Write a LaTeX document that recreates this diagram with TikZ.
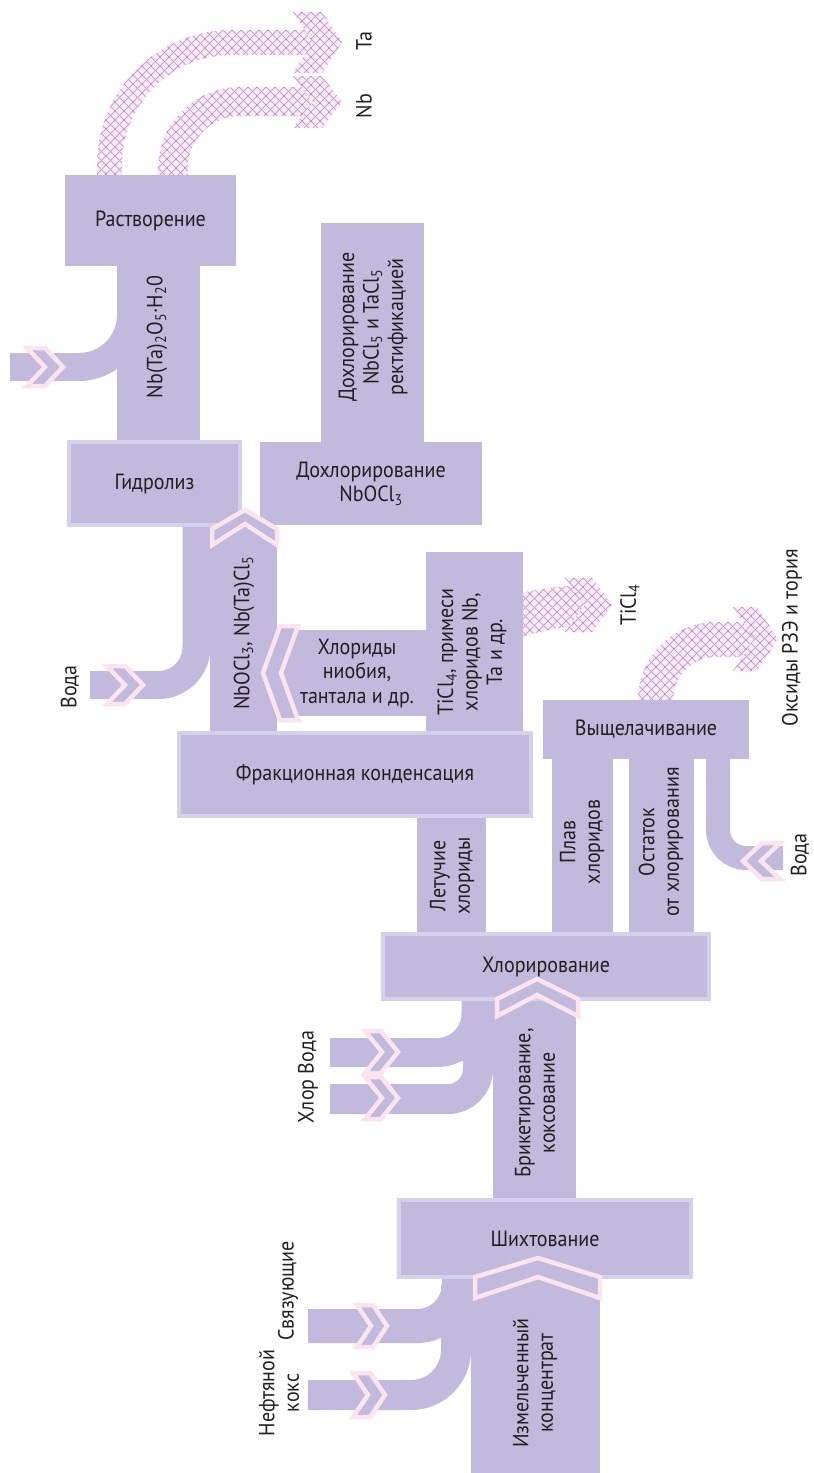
\documentclass[tikz,border=0pt]{standalone}
\usepackage{fontspec}
\setmainfont{PT Sans}[FakeStretch=0.91]
\definecolor{bandc}{RGB}{193,186,220}
\definecolor{bordc}{RGB}{214,209,235}
\definecolor{pinkc}{RGB}{251,228,237}
\definecolor{hpinkc}{RGB}{251,236,243}
\definecolor{hlinec}{RGB}{192,165,216}
\definecolor{hdotc}{RGB}{210,70,160}
\definecolor{txtc}{RGB}{35,31,32}
\tikzset{
  lbl/.style={text=txtc, font=\fontsize{22}{24.5}\selectfont, align=center, inner sep=0pt},
  rlbl/.style={lbl, rotate=90},
  plainbox/.style={lbl, fill=bandc, draw=none, outer sep=0pt},
  framebox/.style={lbl, fill=bandc, draw=bordc, line width=4pt, outer sep=0pt},
  stem/.style={fill=bandc},
  band/.style={draw=bandc, line cap=butt},
  chev/.style={draw=pinkc, line width=4.5pt, fill=bandc, line join=miter},
  hatchln/.style={draw=hlinec, line width=0.9pt},
  hatchdot/.style={fill=hdotc},
}
\newcommand{\hatchgrid}[4]{%
  \pgfmathtruncatemacro{\hgN}{((#3)-(#1)+(#4)-(#2))/9+2}%
  \pgfmathtruncatemacro{\hgM}{-\hgN}%
  \pgfmathtruncatemacro{\hgW}{((#3)-(#1))/9+1}%
  \pgfmathtruncatemacro{\hgH}{((#4)-(#2))/9+1}%
  \foreach \k in {\hgM,...,\hgN}{%
    \draw[hatchln] ({#1+9*\k},{#2}) -- ({#1+9*\k+(#4)-(#2)},{#4});
    \draw[hatchln] ({#1+9*\k},{#2}) -- ({#1+9*\k-(#4)+(#2)},{#4});
  }%
  \foreach \i in {0,...,\hgW}{\foreach \j in {0,...,\hgH}{%
    \fill[hatchdot] ({#1+9*\i},{#2+9*\j}) circle (0.7pt);
  }}%
}
\newcommand{\hatchin}[5]{%
  \begin{scope}
    \clip #1;
    \fill[hpinkc] (#2,#3) rectangle (#4,#5);
    \hatchgrid{#2}{#3}{#4}{#5}
  \end{scope}%
}
\newcommand{\hatchchev}[5]{%
  \fill[pinkc] #1;
  \hatchin{#1}{#2}{#3}{#4}{#5}%
}
\begin{document}
\begin{tikzpicture}[x=1pt,y=-1pt]
\useasboundingbox (0,0) rectangle (814,1473);

% ---- solid inflow bands
\draw[band, line width=28pt, rounded corners=52pt] (10,367) -- (131,367) -- (131,290);
\draw[band, line width=28pt, rounded corners=38pt] (90,685) -- (196.5,685) -- (196.5,526);
\draw[band, line width=29pt, rounded corners=39pt] (330,1052.5) -- (476,1052.5) -- (476,1000);
\draw[band, line width=30pt, rounded corners=30pt] (330,1099) -- (478,1099) -- (478,1000);
\draw[band, line width=34pt, rounded corners=42pt] (308,1326) -- (459,1326) -- (459,1278);
\draw[band, line width=30pt, rounded corners=45pt] (308,1395) -- (456,1395) -- (456,1285);
\draw[band, line width=24pt, rounded corners=28pt] (783,858) -- (718,858) -- (718,758);

% ---- hatched output bands
\hatchin{(97,176) -- (97,165) .. controls (97,90.4) and (157.4,30) .. (232,30) -- (315,30) -- (315,55) -- (232,55) .. controls (171.25,55) and (122,104.25) .. (122,165) -- (122,176) -- cycle}{97}{30}{315}{176}
\hatchin{(158,176) -- (158,169) .. controls (158,123.7) and (194.7,87) .. (240,87) -- (315,87) -- (315,116) -- (240,116) .. controls (211.3,116) and (188,139.3) .. (188,168) -- (188,176) -- cycle}{158}{87}{315}{176}
\hatchin{(521,593) .. controls (545,588) and (560,586) .. (585,585) -- (585,626) .. controls (560,627) and (545,630) .. (521,637) -- cycle}{521}{585}{585}{637}
\hatchin{(638,701) -- (638,700) .. controls (638,656.9) and (672.9,622) .. (716,622) -- (755,622) -- (755,657) -- (716,657) .. controls (692.3,657) and (673,676.3) .. (673,700) -- (673,701) -- cycle}{638}{622}{755}{701}
\hatchchev{(293,12) -- (322,12) -- (342,42.5) -- (322,73) -- (293,73) -- (313,42.5) -- cycle}{293}{12}{342}{73}
\hatchchev{(293,76) -- (322,76) -- (342,102) -- (322,128) -- (293,128) -- (313,102) -- cycle}{293}{76}{342}{128}
\hatchchev{(565,578) -- (592,578) -- (612,605) -- (592,632) -- (565,632) -- (585,605) -- cycle}{565}{578}{612}{632}
\hatchchev{(733,607) -- (757,607) -- (778,639) -- (757,671) -- (733,671) -- (754,639) -- cycle}{733}{607}{778}{671}

% ---- stems
\fill[stem] (117,265) rectangle (200,441);
\fill[stem] (321,223) rectangle (424,443);
\fill[stem] (210,526) rectangle (277,732);
\fill[stem] (276,630) rectangle (427,716);
\fill[stem] (426,552) rectangle (523,732);
\fill[stem] (417,817) rectangle (486,933);
\fill[stem] (552,758) rectangle (613,933);
\fill[stem] (629,758) rectangle (694,933);
\fill[stem] (493,1000) rectangle (576,1199);
\fill[stem] (471,1278) rectangle (600,1473);

% ---- process boxes
\node[plainbox, minimum width=171pt, minimum height=91pt] (rast) at (150.5,220.5) {Растворение};
\node[framebox, minimum width=171pt, minimum height=83pt] (gidr) at (154.5,483.5) {Гидролиз};
\node[plainbox, minimum width=222pt, minimum height=83pt] (dohl) at (371,483.5) {Дохлорирование\\NbOCl\textsubscript{3}};
\node[framebox, minimum width=352pt, minimum height=83pt] (frak) at (355,774.5) {Фракционная конденсация};
\node[plainbox, minimum width=206pt, minimum height=59pt] (vysh) at (646,729.5) {Выщелачивание};
\node[framebox, minimum width=326pt, minimum height=65pt] (chlor) at (546,966.5) {Хлорирование};
\node[framebox, minimum width=292pt, minimum height=77pt] (shih) at (545,1238.5) {Шихтование};

% ---- chevrons
\draw[chev] (212,545) -- (212,529) -- (245,510) -- (277,529) -- (277,545) -- (245,524) -- cycle;
\draw[chev] (497,1016) -- (497,999) -- (537,979) -- (578,999) -- (578,1016) -- (537,995) -- cycle;
\draw[chev] (475,1298) -- (475,1277) -- (538,1258) -- (600,1277) -- (600,1298) -- (538,1277) -- cycle;
\draw[chev] (27,348) -- (45,348) -- (63,367) -- (45,386) -- (27,386) -- (45,367) -- cycle;
\draw[chev] (107,666) -- (125,666) -- (143,685) -- (125,704) -- (107,704) -- (125,685) -- cycle;
\draw[chev] (365,1031) -- (381,1031) -- (398,1052) -- (381,1073) -- (365,1073) -- (382,1052) -- cycle;
\draw[chev] (365,1077) -- (381,1077) -- (398,1098) -- (381,1119) -- (365,1119) -- (382,1098) -- cycle;
\draw[chev] (357,1305) -- (373,1305) -- (387,1326) -- (373,1347) -- (357,1347) -- (371,1326) -- cycle;
\draw[chev] (353,1373) -- (370,1373) -- (385,1395) -- (370,1417) -- (353,1417) -- (368,1395) -- cycle;
\draw[chev] (298,626) -- (280,626) -- (263,673) -- (280,720) -- (298,720) -- (281,673) -- cycle;
\draw[chev] (780,843) -- (762,843) -- (743,861) -- (762,879) -- (780,879) -- (761,861) -- cycle;

% ---- labels
\node[rlbl] (l1) at (157,337) {Nb(Ta)\textsubscript{2}O\textsubscript{5}·H\textsubscript{2}0};
\node[rlbl] (l2) at (373,327) {Дохлорирование\\NbCl\textsubscript{5} и TaCl\textsubscript{5}\\ректификацией};
\node[rlbl] (l3) at (244,633) {NbOCl\textsubscript{3}, Nb(Ta)Cl\textsubscript{5}};
\node[lbl] (l4) at (357,673) {Хлориды\\ниобия,\\тантала и др.};
\node[rlbl] (l5) at (472,652) {TiCl\textsubscript{4}, примеси\\хлоридов Nb,\\Ta и др.};
\node[rlbl] (l6) at (452,876) {Летучие\\хлориды};
\node[rlbl] (l7) at (582,842) {Плав\\хлоридов};
\node[rlbl] (l8) at (661,842) {Остаток\\от хлорирования};
\node[rlbl] (l9) at (535,1103) {Брикетирование,\\коксование};
\node[rlbl] (l10) at (535,1383) {Измельченный\\концентрат};
\node[rlbl] (l11) at (288,1291) {Связующие};
\node[rlbl] (l12) at (279,1393) {Нефтяной\\кокс};
\node[rlbl] (l13) at (308,1077) {Хлор Вода};
\node[rlbl] (l14) at (70,687) {Вода};
\node[rlbl] (l15) at (800,855) {Вода};
\node[rlbl] (l16) at (364,41) {Ta};
\node[rlbl] (l17) at (364,106) {Nb};
\node[rlbl] (l18) at (630,605) {TiCl\textsubscript{4}};
\node[rlbl] (l19) at (792,638) {Оксиды РЗЭ и тория};
\end{tikzpicture}
\end{document}
